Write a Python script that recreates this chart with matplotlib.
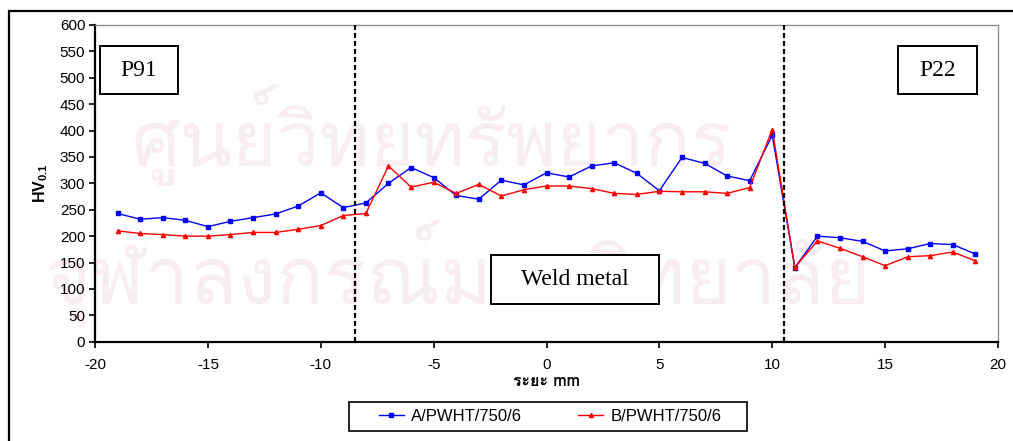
import matplotlib
matplotlib.use("Agg")
import matplotlib.pyplot as plt
from matplotlib import font_manager
from matplotlib.ft2font import FT2Font
from matplotlib.patches import Rectangle

# ---------------- data ----------------
x_pos = [-19, -18, -17, -16, -15, -14, -13, -12, -11, -10, -9, -8, -7, -6, -5, -4, -3, -2, -1,
         0, 1, 2, 3, 4, 5, 6, 7, 8, 9, 10, 11, 12, 13, 14, 15, 16, 17, 18, 19]
series_a = [243, 232, 235, 230, 218, 228, 235, 242, 257, 282, 254, 263, 300, 330, 311, 277, 270,
            306, 297, 320, 312, 333, 339, 319, 286, 349, 338, 314, 305, 391, 140, 200, 197, 190,
            172, 176, 186, 184, 166]
series_b = [210, 205, 203, 200, 200, 203, 207, 207, 213, 220, 239, 243, 333, 293, 302, 281, 298,
            276, 288, 295, 295, 290, 281, 279, 285, 284, 284, 281, 292, 402, 141, 191, 177, 161,
            144, 161, 163, 170, 153]
series_names = ["A/PWHT/750/6", "B/PWHT/750/6"]
boundaries = [-8.5, 10.5]
region_labels = ["P91", "P22", "Weld metal"]
x_label = "ระยะ mm"
watermark_lines = ["ศูนย์วิทยทรัพยากร", "จุฬาลงกรณ์มหาวิทยาลัย"]

# ---------------- fonts ----------------
thai_font = None
for f in font_manager.fontManager.ttflist:
    try:
        if 0x0E23 in FT2Font(f.fname).get_charmap():
            thai_font = f.name
            break
    except Exception:
        pass
sans = "Liberation Sans"
serif = "Liberation Serif"
thai_family = [thai_font, sans] if thai_font else [sans, "DejaVu Sans"]

plt.rcParams["font.family"] = [sans, "DejaVu Sans"]
plt.rcParams["axes.unicode_minus"] = False
plt.rcParams["mathtext.fontset"] = "custom"
plt.rcParams["mathtext.rm"] = "Liberation Sans"
plt.rcParams["mathtext.bf"] = "Liberation Sans:bold"

W, H = 1013, 441
fig = plt.figure(figsize=(W / 100, H / 100), dpi=100)

# outer chart frame (cut at right/bottom)
fig.patches.append(Rectangle((8.5 / W, -0.1), 1.2, 1 - 10.7 / H + 0.1, transform=fig.transFigure,
                             fill=False, edgecolor="black", linewidth=1.6, zorder=0))

# faint watermark behind the chart
if thai_font:
    fig.text(432 / W, 1 - 135 / H, watermark_lines[0], fontsize=55, family=thai_family,
             color="#f7edf3", ha="center", va="center", zorder=-2)
    fig.text(458 / W, 1 - 272 / H, watermark_lines[1], fontsize=57, family=thai_family,
             color="#f7edf3", ha="center", va="center", zorder=-2)

ax = fig.add_axes([95 / W, 1 - 341.7 / H, (998 - 95) / W, (341.7 - 25) / H])
ax.patch.set_alpha(0)

ax.plot(x_pos, series_a, color="#0000ff", lw=1.0, marker="s", ms=2.2, label=series_names[0], zorder=3)
ax.plot(x_pos, series_b, color="#ff0000", lw=1.0, marker="^", ms=3.0, label=series_names[1], zorder=3)

for b in boundaries:
    ax.plot([b, b], [0, 600], color="black", lw=1.6, ls=(0, (2.3, 1.3)), zorder=4)

ax.set_xlim(-20, 20)
ax.set_ylim(0, 600)
ax.set_xticks(range(-20, 21, 5))
ax.set_yticks(range(0, 601, 50))
ax.tick_params(direction="out", length=4, width=1.2, labelsize=11, pad=3)
ax.tick_params(axis="x", pad=8)

for s in ["left", "bottom"]:
    ax.spines[s].set_linewidth(1.6)
    ax.spines[s].set_color("black")
for s in ["top", "right"]:
    ax.spines[s].set_linewidth(1.0)
    ax.spines[s].set_color("#909090")

ax.set_ylabel(r"$\mathbf{HV_{0.1}}$", fontsize=11.5, labelpad=7)
ax.set_xlabel(x_label, fontsize=11.5, fontweight="bold", family=thai_family, labelpad=1)

# region label boxes
def box_text(x0, x1, y0, y1, text):
    fig.patches.append(Rectangle((x0 / W, 1 - y1 / H), (x1 - x0) / W, (y1 - y0) / H,
                                 transform=fig.transFigure, fill=True, facecolor="white",
                                 edgecolor="black", linewidth=1.4, zorder=5))
    fig.text((x0 + x1) / 2 / W, 1 - (y0 + y1) / 2 / H, text, fontsize=17, family=serif,
             ha="center", va="center", zorder=6)

box_text(99.5, 178, 46, 94, region_labels[0])
box_text(898, 977, 46, 94, region_labels[1])
box_text(491, 659, 255, 304, region_labels[2])

# legend with a separately drawn frame
fig.patches.append(Rectangle((349 / W, 1 - 430.7 / H), (747 - 349) / W, (430.7 - 401.7) / H,
                             transform=fig.transFigure, fill=True, facecolor="white",
                             edgecolor="black", linewidth=1.2, zorder=5))
leg = fig.legend(loc="center", bbox_to_anchor=(550 / W, 1 - 416.5 / H), ncol=2, fontsize=12,
                 frameon=False, handlelength=1.5, handletextpad=0.42, columnspacing=3.4,
                 borderpad=0.2, numpoints=1)
leg.set_zorder(6)

fig.savefig("out.png", dpi=100)
